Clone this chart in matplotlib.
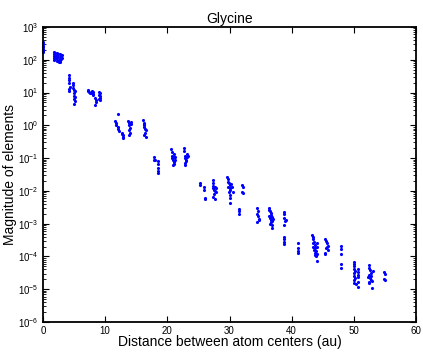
import matplotlib
matplotlib.use("Agg")
import matplotlib.pyplot as plt
from matplotlib.ticker import LogLocator, FixedLocator, NullFormatter

plt.rcParams["font.family"] = ["Liberation Sans", "DejaVu Sans"]
plt.rcParams["mathtext.default"] = "regular"
plt.rcParams["axes.unicode_minus"] = False

# distance (au) / magnitude pairs, grouped by cluster band
x_a = [0.0, 0.0, 0.0, 0.0, 0.0, 0.0, 0.05, 0.05]
y_a = [340, 300, 270, 240, 220, 200, 180, 170]

x_b = [1.7, 1.7, 1.7, 1.7, 1.8, 2.0, 2.0, 2.0, 2.0, 2.2, 2.2, 2.2, 2.3, 2.4, 2.4,
       2.5, 2.5, 2.7, 2.7, 2.7, 2.9, 2.9, 2.8, 3.0, 3.0]
y_b = [170, 150, 130, 115, 100, 165, 140, 120, 105, 160, 135, 110, 95, 150, 125,
       100, 88, 145, 118, 92, 130, 108, 84, 140, 115]

x_c = [4.2, 4.2, 4.2, 4.2, 4.2, 4.1, 4.3,
       4.9, 4.9, 4.9, 5.0, 5.0, 5.0, 5.0, 5.1, 5.0, 5.1, 5.1]
y_c = [35, 28, 20, 13, 11, 24, 15,
       20, 17, 14, 12, 9.5, 8, 6.5, 5.5, 4.5, 11, 7.5]

x_d = [7.2, 7.3, 7.4, 7.6, 7.8, 7.9, 8.0, 8.1, 7.7, 8.0,
       8.4, 8.5, 8.5, 8.4,
       9.0, 9.1, 9.0, 9.2, 9.1, 9.0, 9.2]
y_d = [12, 11, 10.5, 10, 9.5, 11, 9.0, 8.5, 9.8, 10.2,
       7, 6, 5, 4.2,
       10.5, 9.5, 8.5, 7.8, 7, 6.5, 6]

x_e = [11.6, 11.7, 11.8, 12.0, 12.0, 12.1, 12.2,
       12.7, 12.8, 12.9, 12.8, 12.7,
       13.7, 13.8, 13.9, 14.0, 14.1, 13.8, 14.0, 13.9, 14.1,
       16.1, 16.2, 16.2, 16.3, 16.4, 16.5, 16.4, 16.3, 16.5, 16.2]
y_e = [1.4, 1.2, 1.0, 2.2, 0.9, 0.75, 0.65,
       0.6, 0.5, 0.45, 0.4, 0.55,
       1.4, 1.2, 1.0, 0.85, 1.3, 0.7, 0.6, 0.5, 1.1,
       1.5, 1.2, 1.0, 0.9, 0.8, 0.7, 0.6, 0.5, 0.45, 1.1]

x_f = [17.8, 17.9, 18.0,
       18.5, 18.5, 18.5, 18.5, 18.5,
       20.6, 20.7, 20.7, 20.8, 20.9, 21.0, 21.1, 21.2, 21.0, 21.1, 21.3, 20.9,
       22.6, 22.7, 22.8, 22.9, 23.0, 23.1, 23.2, 23.0, 22.9, 22.8, 23.3]
y_f = [0.11, 0.09, 0.085,
       0.08, 0.065, 0.05, 0.04, 0.035,
       0.19, 0.15, 0.12, 0.1, 0.09, 0.13, 0.11, 0.085, 0.075, 0.065, 0.11, 0.06,
       0.2, 0.16, 0.12, 0.1, 0.09, 0.13, 0.11, 0.08, 0.07, 0.06, 0.12]

x_g = [25.2, 25.3, 25.9, 25.9, 26.0, 26.0,
       27.3, 27.3, 27.4, 27.4, 27.5, 27.6, 27.7, 27.8, 27.5, 27.4, 27.6, 27.9,
       29.6, 29.7, 29.8, 29.9, 30.0, 29.8, 30.1, 30.0, 29.9, 30.2, 30.4, 30.1,
       30.0, 30.0, 30.5,
       31.6, 31.6, 31.6,
       32.0, 32.1, 32.0, 32.1]
y_g = [0.017, 0.015, 0.013, 0.011, 0.006, 0.0055,
       0.022, 0.018, 0.014, 0.012, 0.011, 0.01, 0.013, 0.0095, 0.008, 0.0065, 0.0058, 0.012,
       0.027, 0.023, 0.019, 0.017, 0.015, 0.013, 0.012, 0.011, 0.009, 0.016, 0.013, 0.0075,
       0.006, 0.0043, 0.009,
       0.0028, 0.0024, 0.002,
       0.015, 0.013, 0.0095, 0.0088]

x_h = [34.5, 34.6, 34.5, 34.6, 34.7, 34.5, 34.8,
       36.3, 36.4, 36.5, 36.6, 36.7, 36.4, 36.8, 36.5, 36.6, 36.9, 36.7, 36.8, 36.9,
       37.0, 36.5,
       38.7, 38.8, 38.7, 38.9, 38.7, 39.1,
       38.8, 38.8, 38.8, 38.8]
y_h = [0.003, 0.0024, 0.002, 0.0017, 0.0013, 0.0011, 0.00135,
       0.003, 0.0027, 0.0024, 0.0021, 0.0019, 0.0017, 0.0016, 0.0015, 0.0013, 0.0012, 0.0011, 0.0009, 0.00075,
       0.0014, 0.001,
       0.0023, 0.002, 0.0015, 0.0012, 0.0009, 0.0013,
       0.0004, 0.00033, 0.00028, 0.00024]

x_i = [41.0, 41.0, 41.0, 41.0,
       43.3, 43.4, 43.5, 43.6, 43.4, 43.7, 43.5, 43.8, 43.6, 43.9, 44.0, 44.1,
       43.7, 43.8, 44.0, 44.1, 43.9,
       45.4, 45.5, 45.6, 45.7, 45.5, 45.8, 45.3, 45.4, 45.9,
       47.9, 47.9, 47.9, 47.9, 47.9]
y_i = [0.00026, 0.00018, 0.00015, 0.00013,
       0.00045, 0.0004, 0.00033, 0.00028, 0.00025, 0.00022, 0.0002, 0.00018, 0.00016, 0.00015, 0.00025, 0.0002,
       0.00013, 0.00011, 0.00012, 0.000075, 0.0001,
       0.00035, 0.0003, 0.00025, 0.0002, 0.00018, 0.00016, 0.00013, 0.00012, 0.00021,
       0.00021, 0.00017, 0.00012, 0.00006, 0.000045]

x_j = [50.0, 50.0, 50.1, 50.0, 50.2, 50.1, 50.0, 50.2, 50.1, 50.0, 50.3,
       50.6, 50.6, 50.7, 50.6, 50.7, 50.6,
       52.4, 52.5, 52.6, 52.7, 52.5, 52.8, 52.6, 52.7, 52.4, 52.5, 52.9, 52.9, 53.0, 52.3,
       54.9, 55.0, 54.9, 55.0]
y_j = [7e-5, 6e-5, 5e-5, 4.2e-5, 3.6e-5, 3.1e-5, 2.6e-5, 2.2e-5, 1.9e-5, 1.6e-5, 1.4e-5,
       4e-5, 3.3e-5, 2.8e-5, 2.3e-5, 1.7e-5, 1.2e-5,
       5.5e-5, 4.5e-5, 3.8e-5, 3.2e-5, 2.8e-5, 2.5e-5, 2.2e-5, 1.9e-5, 1.7e-5, 1.5e-5, 1.8e-5, 1.1e-5, 3.5e-5, 2.4e-5,
       3.3e-5, 2.9e-5, 2.1e-5, 1.9e-5]

groups = [(x_a, y_a), (x_b, y_b), (x_c, y_c), (x_d, y_d), (x_e, y_e),
          (x_f, y_f), (x_g, y_g), (x_h, y_h), (x_i, y_i), (x_j, y_j)]

fig = plt.figure(figsize=(4.23, 3.52), dpi=100)
ax = fig.add_axes([0.1017, 0.0852, 0.8818, 0.8381])
for xs, ys in groups:
    ax.plot(xs, ys, ".", color="#0000ff", markersize=2.5, clip_on=False)

ax.set_yscale("log")
ax.set_xlim(0, 60)
ax.set_ylim(1e-6, 1e3)
ax.xaxis.set_major_locator(FixedLocator([0, 10, 20, 30, 40, 50, 60]))
ax.yaxis.set_major_locator(LogLocator(base=10, numticks=20))
ax.yaxis.set_minor_locator(LogLocator(base=10, subs=range(2, 10), numticks=20))
ax.yaxis.set_minor_formatter(NullFormatter())
ax.tick_params(which="both", direction="in", top=True, right=True, labelsize=7)
ax.tick_params(which="major", length=4, width=0.8)
ax.tick_params(which="minor", length=2, width=0.6)
ax.tick_params(axis="x", pad=3)
for s in ax.spines.values():
    s.set_linewidth(1.3)

ax.set_title("Glycine", fontsize=10, pad=3)
ax.set_xlabel("Distance between atom centers (au)", fontsize=10, labelpad=0)
ax.xaxis.set_label_coords(0.5, -0.044)
ax.set_ylabel("Magnitude of elements", fontsize=10)
ax.yaxis.set_label_coords(-0.07, 0.5)

fig.savefig("out.png", dpi=100)
